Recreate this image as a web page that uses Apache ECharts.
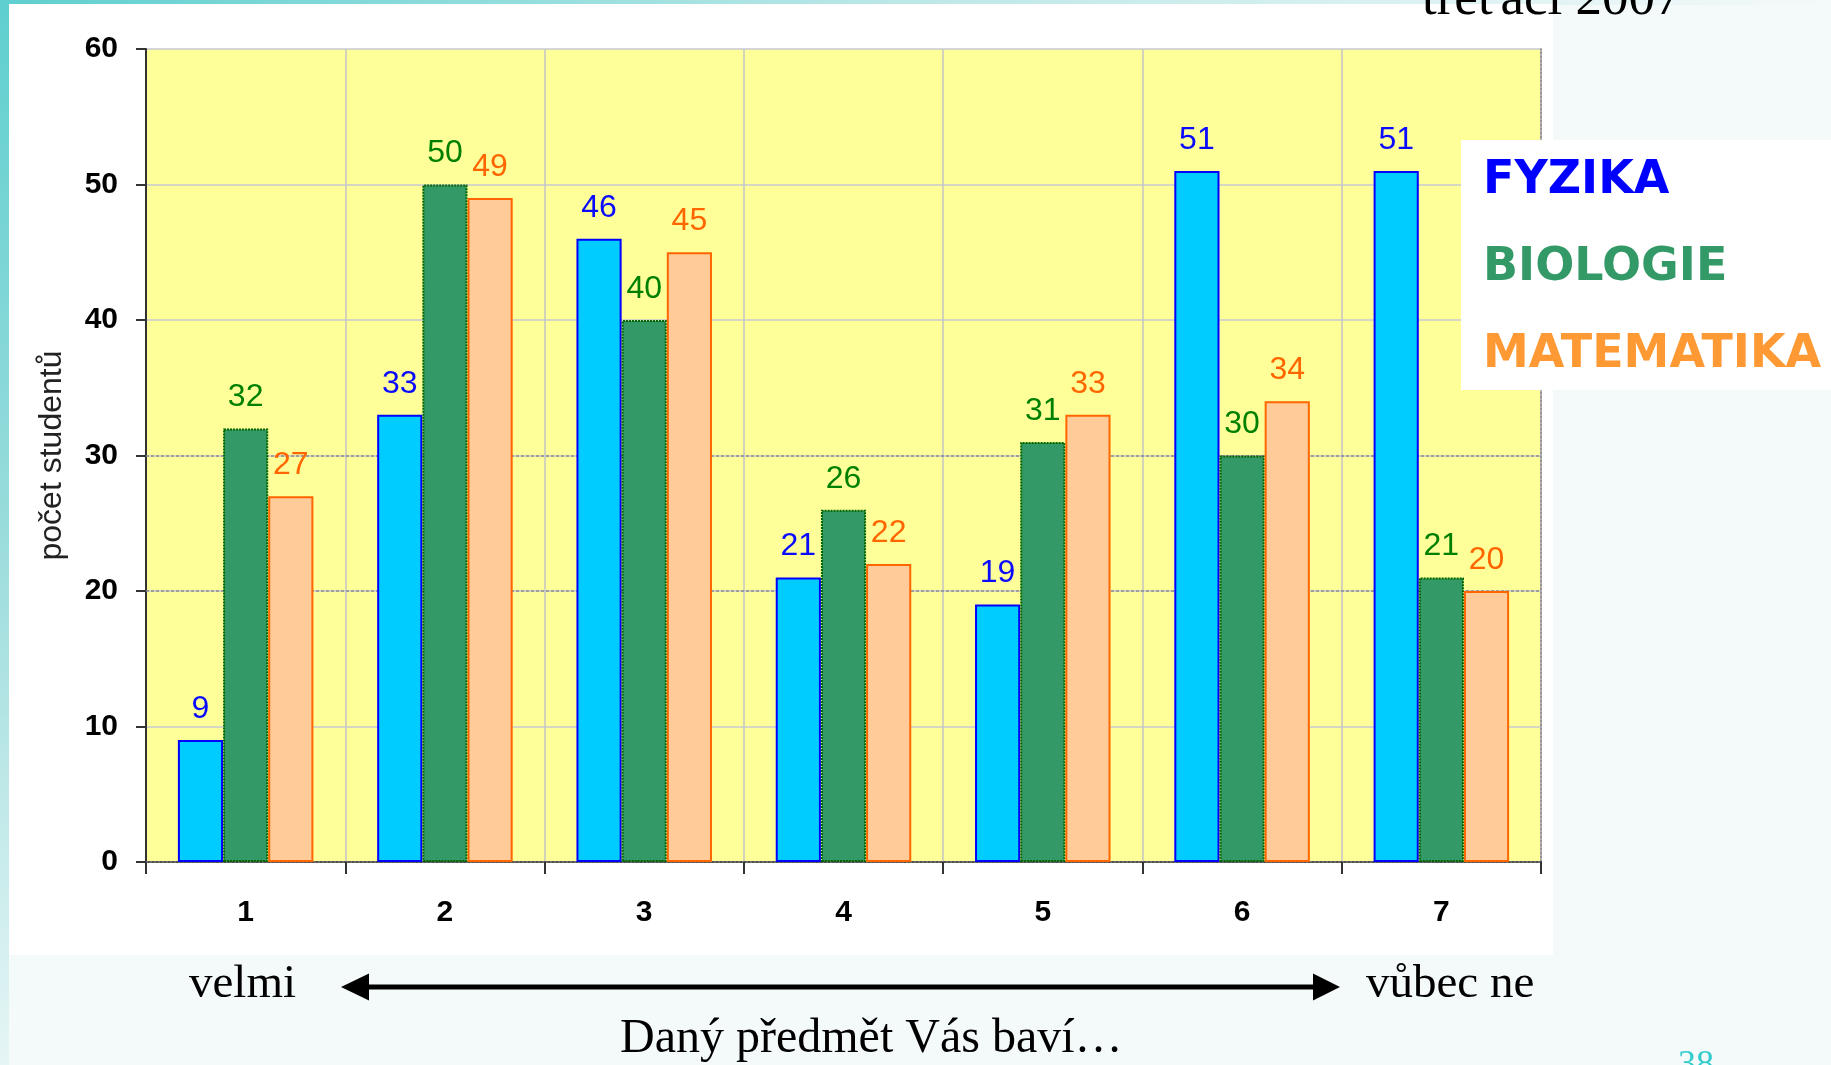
<!DOCTYPE html>
<html>
<head>
<meta charset="utf-8">
<style>
html,body{margin:0;padding:0;width:1831px;height:1065px;overflow:hidden;background:#F4F9FA;}
#c{width:1831px;height:1065px;}
</style>
<script src="https://cdn.jsdelivr.net/npm/echarts@6/dist/echarts.min.js"></script>
</head>
<body>
<div id="c"></div>
<script>
// ---- data ----
const categories = ['1', '2', '3', '4', '5', '6', '7'];
const seriesNames = ['FYZIKA', 'BIOLOGIE', 'MATEMATIKA'];
const fyzika = [9, 33, 46, 21, 19, 51, 51];
const biologie = [32, 50, 40, 26, 31, 30, 21];
const matematika = [27, 49, 45, 22, 33, 34, 20];
const yMin = 0, yMax = 60, yStep = 10;
const darkGridValues = [20, 30];
const yAxisTitle = 'počet studentů';
const titleText = 'třeťáci 2007';
const leftText = 'velmi';
const rightText = 'vůbec ne';
const bottomText = 'Daný předmět Vás baví…';
const pageNumber = '38';

const chart = echarts.init(document.getElementById('c'), null, {renderer: 'canvas'});
const sans = "'Liberation Sans', Arial, sans-serif";
const serif = "'Liberation Serif', 'Times New Roman', serif";

function barSeries(name, data, fill, border, labelColor, borderType) {
  return {
    name: name, type: 'bar', data: data,
    barGap: '0%', barCategoryGap: '32%',
    itemStyle: {color: fill, borderColor: border, borderWidth: 2, borderType: borderType || 'solid'},
    label: {show: true, position: 'top', distance: 15, color: labelColor, fontSize: 32, fontFamily: sans},
    emphasis: {disabled: true}
  };
}

const s0 = barSeries(seriesNames[0], fyzika, '#00CCFF', '#0000FF', '#0A0AFF');
s0.markLine = {
  silent: true, symbol: 'none', z: 1, label: {show: false},
  lineStyle: {color: '#8c8c8c', type: [3, 2], width: 1.5},
  data: darkGridValues.map(v => ({yAxis: v}))
};

const option = {
  backgroundColor: '#F4F9FA',
  animation: false,
  graphic: [
    {type: 'rect', z: -10, shape: {x: 0, y: 0, width: 1831, height: 5},
     style: {fill: new echarts.graphic.LinearGradient(0, 0, 1, 0, [{offset: 0, color: '#5FCFCF'}, {offset: 0.5, color: '#BDE8E8'}, {offset: 1, color: '#F4F9FA'}])}},
    {type: 'rect', z: -10, shape: {x: 0, y: 0, width: 9, height: 1065},
     style: {fill: new echarts.graphic.LinearGradient(0, 0, 0, 1, [{offset: 0, color: '#5FCFCF'}, {offset: 0.5, color: '#9ADCDC'}, {offset: 1, color: '#E6F5F5'}])}},
    {type: 'rect', z: -9, shape: {x: 9, y: 4, width: 1544, height: 951}, style: {fill: '#FFFFFF'}},
    {type: 'text', z: 10, x: 1422, y: 0, style: {text: titleText, font: '53px ' + serif, fill: '#000', verticalAlign: 'middle'}},
    {type: 'text', z: 10, x: 189, y: 985, style: {text: leftText, font: '47px ' + serif, fill: '#000', verticalAlign: 'middle'}},
    {type: 'text', z: 10, x: 1366, y: 985, style: {text: rightText, font: '47px ' + serif, fill: '#000', verticalAlign: 'middle'}},
    {type: 'text', z: 10, x: 620, y: 1039, style: {text: bottomText, font: '48px ' + serif, fill: '#000', verticalAlign: 'middle'}},
    {type: 'text', z: 10, x: 1678, y: 1066, style: {text: pageNumber, font: '36px ' + serif, fill: '#33CCCC', verticalAlign: 'middle'}},
    {type: 'line', z: 10, shape: {x1: 360, y1: 987, x2: 1320, y2: 987}, style: {stroke: '#000', lineWidth: 5}},
    {type: 'polygon', z: 10, shape: {points: [[341, 987], [369, 973.5], [369, 1000.5]]}, style: {fill: '#000'}},
    {type: 'polygon', z: 10, shape: {points: [[1340, 987], [1313, 973.5], [1313, 1000.5]]}, style: {fill: '#000'}}
  ],
  legend: {
    show: true, orient: 'vertical', left: 1461, top: 140,
    icon: 'none', itemWidth: 0, itemHeight: 50, itemGap: 37,
    padding: [16, 14, 10, 17],
    backgroundColor: '#FFFFFF',
    selectedMode: false,
    textStyle: {fontSize: 46, fontWeight: 'bold', fontFamily: "'DejaVu Sans', sans-serif", lineHeight: 50},
    data: [
      {name: seriesNames[0], textStyle: {color: '#0000FF'}},
      {name: seriesNames[1], textStyle: {color: '#339966'}},
      {name: seriesNames[2], textStyle: {color: '#FF9933'}}
    ]
  },
  grid: {left: 146, top: 49, right: 290, bottom: 203, show: true, backgroundColor: '#FFFF99', borderWidth: 0, containLabel: false},
  xAxis: [
    {
      type: 'category', data: categories, position: 'bottom',
      axisLine: {show: true, lineStyle: {color: '#333', width: 2}},
      axisTick: {show: true, length: 12, lineStyle: {color: '#333', width: 2}},
      axisLabel: {fontSize: 30, fontWeight: 'bold', color: '#000', margin: 36, fontFamily: sans},
      splitLine: {show: true, lineStyle: {color: '#C4C4C8', width: 1.5}}
    },
    {
      type: 'category', data: categories, position: 'top',
      axisLine: {show: true, lineStyle: {color: '#808080', width: 1.5, type: [2, 2]}},
      axisTick: {show: false}, axisLabel: {show: false}, splitLine: {show: false}
    }
  ],
  yAxis: [
    {
      type: 'value', min: yMin, max: yMax, interval: yStep,
      name: yAxisTitle, nameLocation: 'middle', nameGap: 78, nameRotate: 90,
      nameTextStyle: {fontSize: 32, color: '#222', fontFamily: sans},
      axisLine: {show: true, lineStyle: {color: '#333', width: 2}},
      axisTick: {show: true, length: 10, lineStyle: {color: '#333', width: 2}},
      axisLabel: {fontSize: 30, fontWeight: 'bold', color: '#000', margin: 28, fontFamily: sans},
      splitLine: {show: true, lineStyle: {color: '#C8C8D4', width: 1.5}}
    },
    {
      type: 'value', min: yMin, max: yMax, interval: yStep, position: 'right',
      axisLine: {show: true, lineStyle: {color: '#808080', width: 1.5, type: [2, 2]}},
      axisTick: {show: false}, axisLabel: {show: false}, splitLine: {show: false}
    }
  ],
  series: [
    s0,
    barSeries(seriesNames[1], biologie, '#339966', '#006400', '#008000', [2, 1]),
    barSeries(seriesNames[2], matematika, '#FFCC99', '#FF6600', '#FF6600')
  ]
};
chart.setOption(option);
</script>
</body>
</html>
